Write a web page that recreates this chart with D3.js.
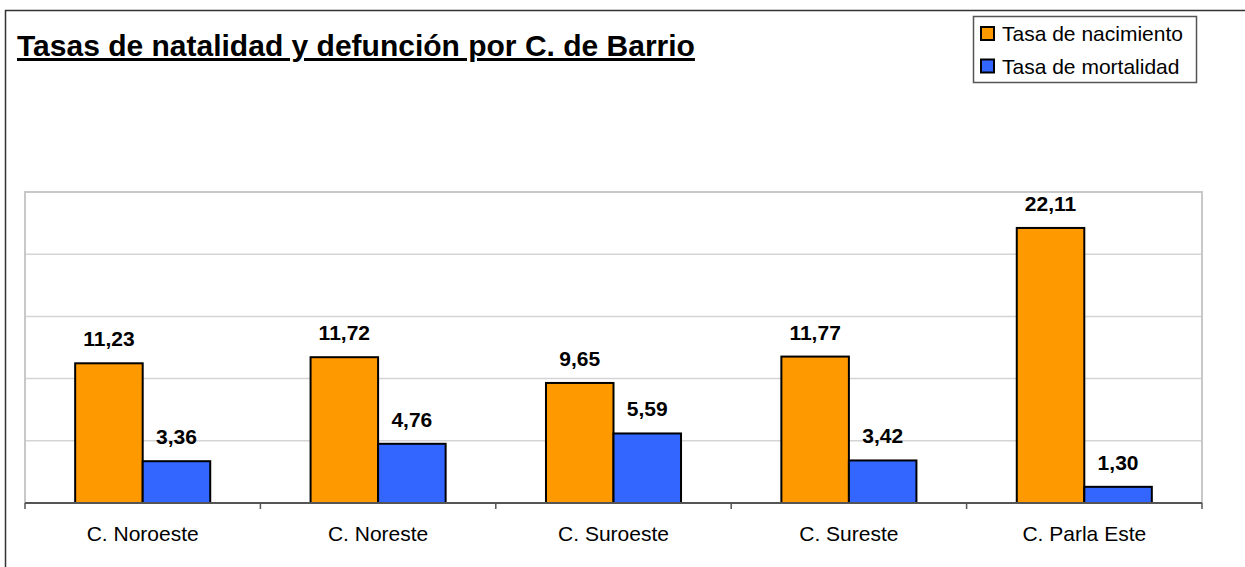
<!DOCTYPE html>
<html>
<head>
<meta charset="utf-8">
<script src="https://cdn.jsdelivr.net/npm/d3@7"></script>
<style>
  body { margin: 0; background: #fff; }
  text { font-family: Arial, "Liberation Sans", sans-serif; }
</style>
</head>
<body>
<svg id="chart" width="1245" height="567"></svg>
<script>
var barrios = ["C. Noroeste", "C. Noreste", "C. Suroeste", "C. Sureste", "C. Parla Este"];
var natalidad = [11.23, 11.72, 9.65, 11.77, 22.11];
var mortalidad = [3.36, 4.76, 5.59, 3.42, 1.30];
var seriesNames = ["Tasa de nacimiento", "Tasa de mortalidad"];
var yTicks = [0, 5, 10, 15, 20, 25];

var colors = {"Tasa de nacimiento": "#ff9900", "Tasa de mortalidad": "#3366ff"};

var rows = barrios.map(function(b, i) {
    return {barrio: b, values: [
        {serie: seriesNames[0], v: natalidad[i]},
        {serie: seriesNames[1], v: mortalidad[i]}
    ]};
});

var svg = d3.select("#chart");

// outer frame of the chart
svg.append("rect")
    .attr("x", 5.5).attr("y", 10.5)
    .attr("width", 1260).attr("height", 600)
    .attr("fill", "none")
    .attr("stroke", "#333")
    .attr("stroke-width", 1.5);

var plot = {left: 25, right: 1202, top: 192, bottom: 503};

var x0 = d3.scaleBand()
    .domain(barrios)
    .range([plot.left, plot.right])
    .padding(0);

var x1 = d3.scaleBand()
    .domain(seriesNames)
    .range([0, x0.bandwidth()])
    .paddingInner(0)
    .paddingOuter(0.743);

var y = d3.scaleLinear()
    .domain([0, 25])
    .range([plot.bottom, plot.top]);

// gridlines
svg.append("g")
    .selectAll("line")
    .data(yTicks.slice(1))
    .enter().append("line")
    .attr("x1", plot.left).attr("x2", plot.right)
    .attr("y1", function(d) { return y(d); })
    .attr("y2", function(d) { return y(d); })
    .attr("stroke", "#d4d4d4")
    .attr("stroke-width", 1.5);

// plot border (left, top, right)
svg.append("path")
    .attr("d", "M" + plot.left + "," + plot.bottom + "V" + plot.top + "H" + plot.right + "V" + plot.bottom)
    .attr("fill", "none")
    .attr("stroke", "#c8c8c8")
    .attr("stroke-width", 2);

// bars
var groups = svg.append("g")
    .selectAll("g")
    .data(rows)
    .enter().append("g")
    .attr("transform", function(d) { return "translate(" + x0(d.barrio) + ",0)"; });

groups.selectAll("rect")
    .data(function(d) { return d.values; })
    .enter().append("rect")
    .attr("x", function(d) { return x1(d.serie); })
    .attr("y", function(d) { return y(d.v); })
    .attr("width", x1.bandwidth())
    .attr("height", function(d) { return y(0) - y(d.v); })
    .attr("fill", function(d) { return colors[d.serie]; })
    .attr("stroke", "#000")
    .attr("stroke-width", 2);

var fmt = function(v) { return d3.format(".2f")(v).replace(".", ","); };

groups.selectAll("text")
    .data(function(d) { return d.values; })
    .enter().append("text")
    .attr("x", function(d) { return x1(d.serie) + x1.bandwidth() / 2; })
    .attr("y", function(d) { return y(d.v) - 17; })
    .attr("text-anchor", "middle")
    .style("font-size", "21px")
    .style("font-weight", "bold")
    .text(function(d) { return fmt(d.v); });

// x axis
var xAxis = svg.append("g")
    .attr("transform", "translate(0," + plot.bottom + ")");

xAxis.append("line")
    .attr("x1", plot.left).attr("x2", plot.right)
    .attr("stroke", "#555")
    .attr("stroke-width", 2);

var edges = barrios.map(function(b) { return x0(b); }).concat([plot.right]);
xAxis.selectAll(".tick")
    .data(edges)
    .enter().append("line")
    .attr("class", "tick")
    .attr("x1", function(d) { return d; }).attr("x2", function(d) { return d; })
    .attr("y1", 0).attr("y2", 6)
    .attr("stroke", "#555")
    .attr("stroke-width", 1.5);

xAxis.selectAll(".cat")
    .data(barrios)
    .enter().append("text")
    .attr("class", "cat")
    .attr("x", function(d) { return x0(d) + x0.bandwidth() / 2; })
    .attr("y", 38)
    .attr("text-anchor", "middle")
    .style("font-size", "21px")
    .text(function(d) { return d; });

// title
svg.append("text")
    .attr("x", 17)
    .attr("y", 56)
    .style("font-size", "30px")
    .style("font-weight", "bold")
    .style("text-decoration", "underline")
    .text("Tasas de natalidad y defunción por C. de Barrio");

// legend
var legend = svg.append("g");
legend.append("rect")
    .attr("x", 973.5).attr("y", 16.5)
    .attr("width", 223).attr("height", 66)
    .attr("fill", "#fff")
    .attr("stroke", "#555")
    .attr("stroke-width", 1.5);

var items = legend.selectAll(".item")
    .data(seriesNames)
    .enter().append("g")
    .attr("class", "item")
    .attr("transform", function(d, i) { return "translate(981," + (27 + i * 32.5) + ")"; });

items.append("rect")
    .attr("width", 13).attr("height", 13)
    .attr("fill", function(d) { return colors[d]; })
    .attr("stroke", "#000")
    .attr("stroke-width", 2);

items.append("text")
    .attr("x", 21)
    .attr("y", 14)
    .style("font-size", "21px")
    .text(function(d) { return d; });
</script>
</body>
</html>
